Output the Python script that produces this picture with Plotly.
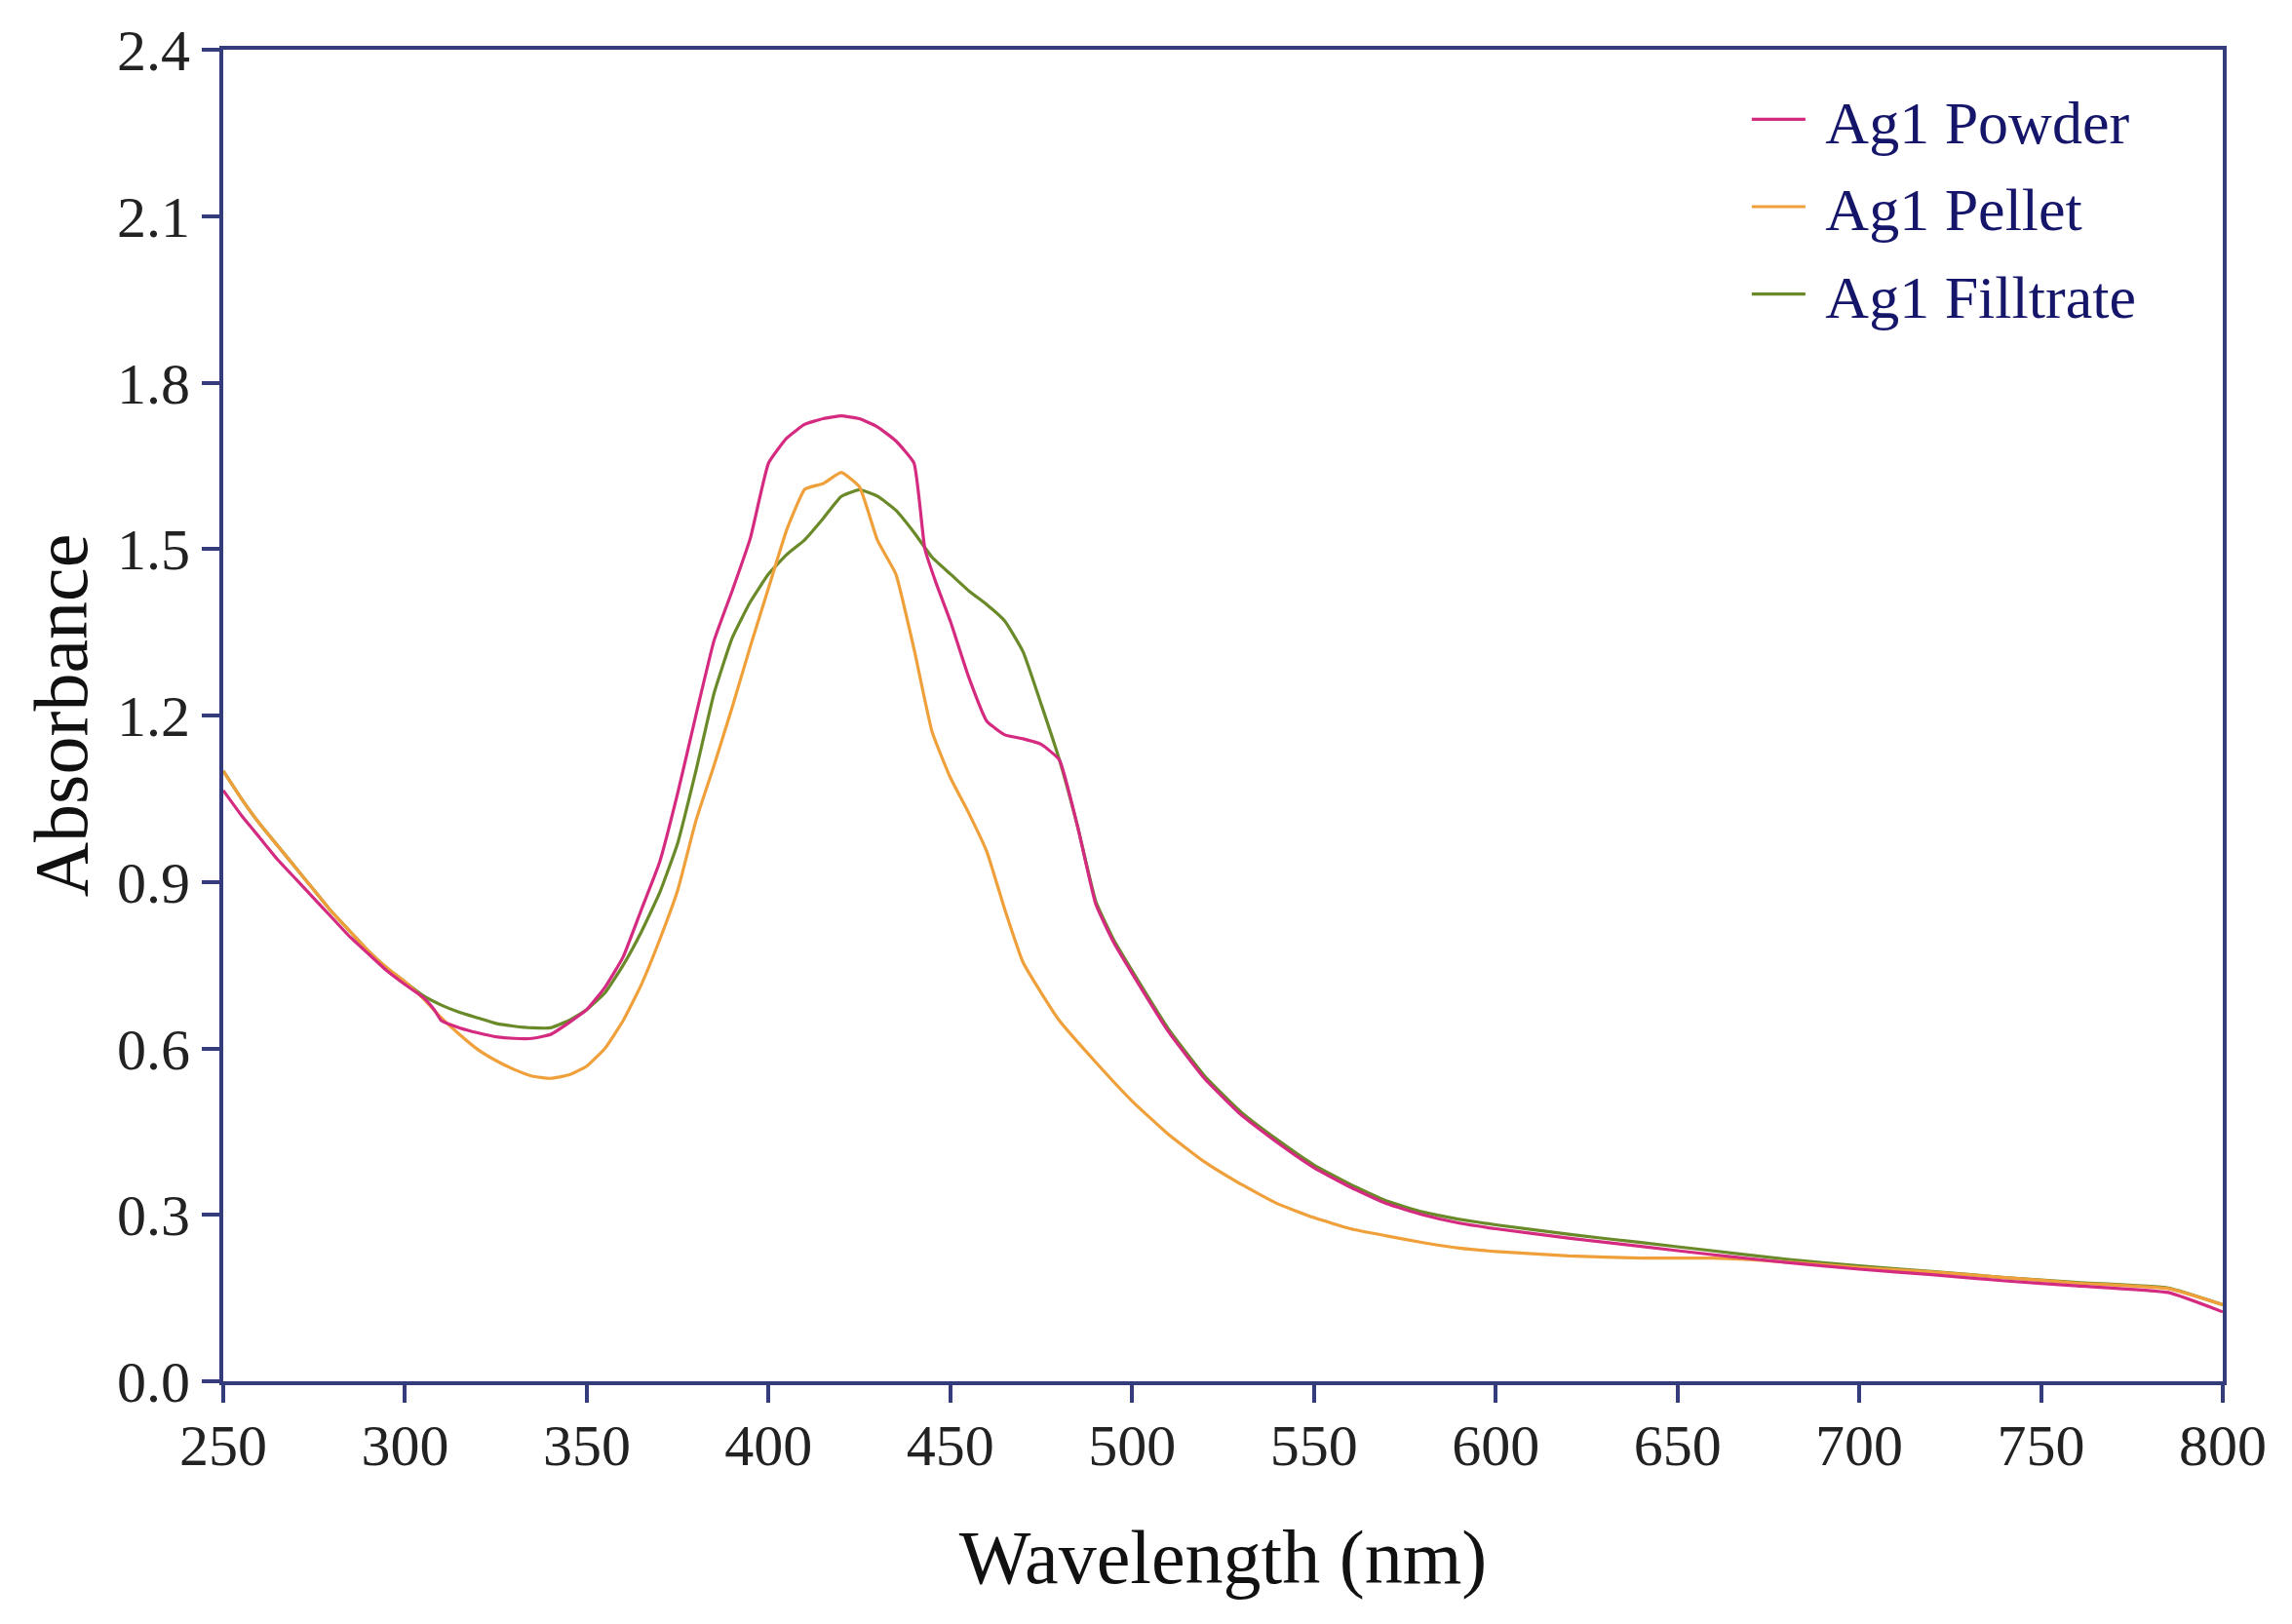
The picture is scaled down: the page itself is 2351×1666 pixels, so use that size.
import plotly.graph_objects as go

# ---- data ----
powder_wl = [250, 255, 260, 265, 270, 275, 280, 285, 290, 295, 300, 305, 308, 310, 315, 320, 325, 330, 335,
             340, 345, 350, 355, 360, 365, 370, 375, 380, 385, 390, 395, 400, 405, 410, 415, 420, 425,
             430, 435, 440, 443, 446, 450, 455, 460, 465, 470, 475, 480, 485, 490, 495, 500, 510, 520,
             530, 540, 550, 560, 570, 580, 590, 600, 620, 640, 660, 680, 700, 720, 740, 760, 785, 800]
powder_abs = [1.065, 1.02, 0.98, 0.94, 0.905, 0.87, 0.835, 0.80, 0.77, 0.74, 0.715, 0.692, 0.67, 0.65, 0.637,
              0.628, 0.621, 0.618, 0.618, 0.625, 0.646, 0.67, 0.71, 0.765, 0.85, 0.935, 1.06, 1.20, 1.335,
              1.425, 1.52, 1.655, 1.70, 1.725, 1.735, 1.74, 1.735, 1.72, 1.695, 1.655, 1.50, 1.44, 1.37,
              1.27, 1.19, 1.165, 1.158, 1.148, 1.12, 1.00, 0.86, 0.79, 0.735, 0.63, 0.545, 0.48, 0.43,
              0.385, 0.35, 0.32, 0.30, 0.285, 0.275, 0.258, 0.243, 0.228, 0.214, 0.202, 0.192, 0.181,
              0.172, 0.16, 0.125]

pellet_wl = [250, 255, 260, 265, 270, 275, 280, 285, 290, 295, 300, 305, 310, 315, 320, 325, 330, 335, 340,
             345, 350, 355, 360, 365, 370, 375, 380, 385, 390, 395, 400, 405, 410, 415, 420, 425, 430,
             435, 440, 445, 450, 455, 460, 465, 470, 475, 480, 490, 500, 510, 520, 530, 540, 550, 560,
             570, 580, 590, 600, 620, 640, 660, 680, 700, 720, 740, 760, 785, 800]
pellet_abs = [1.10, 1.05, 1.005, 0.965, 0.925, 0.885, 0.845, 0.81, 0.775, 0.745, 0.72, 0.69, 0.655, 0.625,
              0.598, 0.578, 0.562, 0.55, 0.546, 0.552, 0.568, 0.60, 0.65, 0.715, 0.795, 0.885, 1.01, 1.11,
              1.215, 1.325, 1.43, 1.535, 1.608, 1.618, 1.638, 1.612, 1.515, 1.455, 1.32, 1.17, 1.088,
              1.025, 0.955, 0.85, 0.755, 0.70, 0.65, 0.575, 0.505, 0.445, 0.395, 0.355, 0.32, 0.295,
              0.275, 0.262, 0.25, 0.24, 0.234, 0.226, 0.222, 0.222, 0.215, 0.205, 0.197, 0.187, 0.177,
              0.167, 0.138]

filtrate_wl = [250, 255, 260, 265, 270, 275, 280, 285, 290, 295, 300, 305, 310, 315, 320, 325, 330, 335, 340,
               345, 350, 355, 360, 365, 370, 375, 380, 385, 390, 395, 400, 405, 410, 415, 420, 425, 430,
               435, 440, 445, 450, 455, 460, 465, 470, 475, 480, 485, 490, 495, 500, 510, 520, 530, 540,
               550, 560, 570, 580, 590, 600, 620, 640, 660, 680, 700, 720, 740, 760, 785, 800]
filtrate_abs = [1.10, 1.05, 1.005, 0.965, 0.925, 0.885, 0.845, 0.81, 0.775, 0.745, 0.72, 0.695, 0.678, 0.665,
                0.655, 0.645, 0.64, 0.637, 0.637, 0.65, 0.67, 0.70, 0.75, 0.81, 0.88, 0.97, 1.10, 1.24,
                1.34, 1.405, 1.455, 1.49, 1.517, 1.555, 1.595, 1.607, 1.595, 1.57, 1.53, 1.485, 1.455,
                1.425, 1.40, 1.37, 1.315, 1.22, 1.12, 1.00, 0.865, 0.795, 0.74, 0.635, 0.55, 0.485, 0.435,
                0.39, 0.355, 0.325, 0.305, 0.292, 0.282, 0.265, 0.25, 0.235, 0.22, 0.208, 0.198, 0.187,
                0.178, 0.168, 0.138]

series_names = ["Ag1 Powder", "Ag1 Pellet", "Ag1 Filltrate"]
series_colors = ["#d42a80", "#f0a03a", "#6a8a2a"]

x_ticks = [250, 300, 350, 400, 450, 500, 550, 600, 650, 700, 750, 800]
y_ticks = [0.0, 0.3, 0.6, 0.9, 1.2, 1.5, 1.8, 2.1, 2.4]
y_tick_labels = ["0.0", "0.3", "0.6", "0.9", "1.2", "1.5", "1.8", "2.1", "2.4"]

# ---- figure ----
fig = go.Figure()
# draw filtrate first, then pellet, then powder on top (as in the reference overlaps)
order = [(2, filtrate_wl, filtrate_abs), (1, pellet_wl, pellet_abs), (0, powder_wl, powder_abs)]
for idx, xs, ys in order:
    fig.add_trace(go.Scatter(
        x=xs, y=ys, mode="lines", name="\u00a0" + series_names[idx],
        line=dict(color=series_colors[idx], width=3.2, shape="spline", smoothing=0.4),
        legendrank=idx + 1, legendgroup=f"g{idx}",
    ))

axis_color = "#343c7c"
serif = "Liberation Serif, Times New Roman, serif"

fig.update_layout(
    width=2351, height=1666,
    paper_bgcolor="white", plot_bgcolor="white",
    margin=dict(l=221, r=79, t=43, b=257, autoexpand=False),
    font=dict(family=serif, color="#222222"),
    showlegend=True,
    legend=dict(
        x=0.762, y=0.982, xanchor="left", yanchor="top",
        bgcolor="rgba(0,0,0,0)", borderwidth=0,
        font=dict(family=serif, size=62, color="#15166a"),
        itemwidth=55, tracegroupgap=6, traceorder="grouped",
    ),
)

fig.update_xaxes(
    range=[250, 800], tickvals=x_ticks, ticktext=[str(v) for v in x_ticks],
    showgrid=False, zeroline=False,
    showline=True, linecolor=axis_color, linewidth=4, mirror=True,
    ticks="outside", ticklen=18, tickwidth=4, tickcolor=axis_color,
    tickfont=dict(family=serif, size=60, color="#222222"),
    ticklabelstandoff=-8,
    title=dict(text="Wavelength (nm)", font=dict(family=serif, size=78, color="#111111"), standoff=55),
    automargin=False,
)
fig.update_yaxes(
    range=[0, 2.4], tickvals=y_ticks, ticktext=y_tick_labels,
    showgrid=False, zeroline=False,
    showline=True, linecolor=axis_color, linewidth=4, mirror=True,
    ticks="outside", ticklen=18, tickwidth=4, tickcolor=axis_color,
    tickfont=dict(family=serif, size=60, color="#222222"),
    title=dict(text="Absorbance", font=dict(family=serif, size=78, color="#111111"), standoff=6),
    automargin=False,
)

fig.write_html("out.html")
